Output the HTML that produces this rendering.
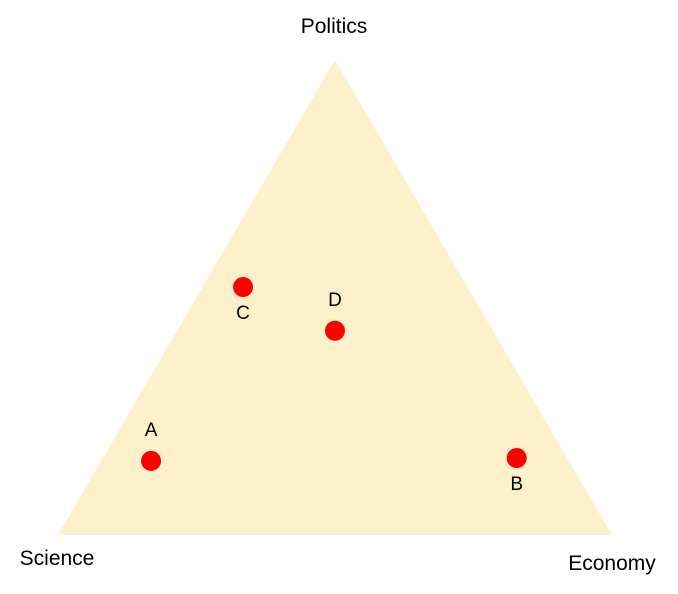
<!DOCTYPE html>
<html><head><meta charset="utf-8"><style>
html,body{margin:0;padding:0;background:#fff;}
svg{display:block;font-family:"Liberation Sans",sans-serif;}
</style></head><body>
<svg id="chart" width="678" height="594" viewBox="0 0 678 594" xmlns="http://www.w3.org/2000/svg">
<polygon points="335,60 58,535 612,535" fill="#fff0cc"/>
<text x="334" y="33" font-size="21" text-anchor="middle" fill="#000">Politics</text>
<text x="57" y="565" font-size="21" text-anchor="middle" fill="#000">Science</text>
<text x="612" y="570" font-size="21" text-anchor="middle" fill="#000">Economy</text>
<g id="points"></g>
</svg>
<script>
const labels = ["A", "B", "C", "D"];
const politics = [0.156, 0.162, 0.522, 0.43];
const economy = [0.09, 0.747, 0.073, 0.285];
const science = [0.754, 0.091, 0.405, 0.285];
const labelSide = ["above", "below", "below", "above"];

const top_ = {x:335, y:60}, left = {x:58, y:535}, right = {x:612, y:535};
function toXY(p, e, s){
  const t = p + e + s;
  p/=t; e/=t; s/=t;
  return {x: p*top_.x + e*right.x + s*left.x, y: p*top_.y + e*right.y + s*left.y};
}
const g = document.getElementById('points');
const NS = "http://www.w3.org/2000/svg";
labels.forEach((lab, i) => {
  const pt = toXY(politics[i], economy[i], science[i]);
  const c = document.createElementNS(NS, 'circle');
  c.setAttribute('cx', pt.x); c.setAttribute('cy', pt.y);
  c.setAttribute('r', 10); c.setAttribute('fill', '#ff0000');
  
  
  g.appendChild(c);
  const t = document.createElementNS(NS, 'text');
  t.setAttribute('x', pt.x);
  t.setAttribute('y', labelSide[i] === 'above' ? pt.y - 25 : pt.y + 32);
  t.setAttribute('font-size', '19');
  t.setAttribute('text-anchor', 'middle');
  t.textContent = lab;
  
  
  g.appendChild(t);
});
</script>
</body></html>
